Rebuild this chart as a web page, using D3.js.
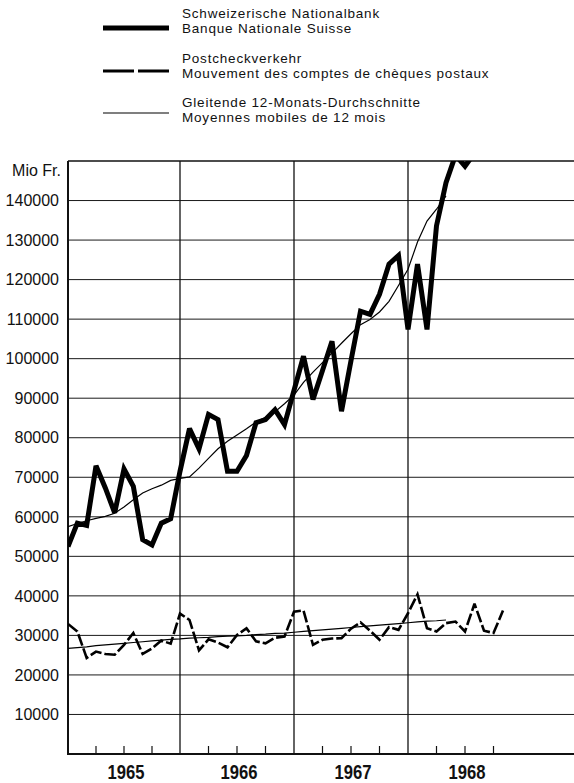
<!DOCTYPE html>
<html>
<head>
<meta charset="utf-8">
<script src="https://cdn.jsdelivr.net/npm/d3@7/dist/d3.min.js"></script>
<style>
  body { margin: 0; background: #fff; }
  svg { display: block; }
  text { font-family: "Liberation Sans", Arial, Helvetica, sans-serif; fill: #111; }
</style>
</head>
<body>
<svg id="chart" width="574" height="783"></svg>
<script>
// monthly values, first value = January 1965
var years = ["1965", "1966", "1967", "1968"];

var snb = [
  52500, 58400, 57800, 72900, 67300, 61000, 72100, 67700, 54200, 52900, 58400, 59500,
  71500, 82300, 77200, 85900, 84600, 71500, 71500, 75500, 83800, 84600, 87100, 83300,
  92000, 100600, 89700, 97000, 104400, 86700, 99500, 112000, 111200, 116300, 123900, 126100,
  107400, 123900, 107400, 133600, 144500, 151500, 148700, 152000
];

var snbAvg = [
  57500, 58300, 59000, 59600, 60100, 60900, 62500, 64300, 66000, 67100, 68000, 69200,
  69700, 70100, 72300, 74800, 77200, 79100, 80700, 82300, 84000, 85200, 86600, 88600,
  90800, 94000, 96600, 99000, 101400, 103900, 106300, 108600, 109900, 111800, 114500, 118500,
  122600, 129500, 134800, 137800, 141200
];

var post = [
  32900, 31000, 24300, 25900, 25300, 25100, 27600, 30600, 25300, 26700, 28700, 27900,
  35500, 33900, 26200, 29000, 28200, 27000, 30100, 31800, 28500, 28000, 29400, 29700,
  36000, 36300, 27600, 28900, 29200, 29300, 31700, 33300, 31200, 28900, 32100, 31400,
  35600, 40400, 31800, 31000, 33100, 33500, 31000, 38000, 31200, 30600, 36300
];

var postAvg = [
  26700, 26900, 27100, 27400, 27600, 27800, 28000, 28200, 28400, 28600, 28800, 29000,
  29100, 29300, 29400, 29500, 29700, 29800, 29900, 30000, 30200, 30300, 30500, 30600,
  30800, 31000, 31200, 31400, 31600, 31800, 32000, 32200, 32400, 32600, 32800, 33000,
  33200, 33400, 33600, 33700, 33900
];

var yTicks = d3.range(10000, 150000, 10000);

var legendItems = [
  { lines: ["Schweizerische Nationalbank", "Banque Nationale Suisse"], kind: "snb" },
  { lines: ["Postcheckverkehr", "Mouvement des comptes de chèques postaux"], kind: "post" },
  { lines: ["Gleitende 12-Monats-Durchschnitte", "Moyennes mobiles de 12 mois"], kind: "avg" }
];

var svg = d3.select("#chart");

var plotTop = 161, plotBottom = 754, plotLeft = 68, plotRight = 574;

// months since Jan 1965
var x = d3.scaleLinear().domain([0, 12, 48]).range([plotLeft, 180, 522]);
var y = d3.scaleLinear().domain([0, 150000]).range([plotBottom, plotTop]);

svg.append("rect").attr("width", 574).attr("height", 783).attr("fill", "#fff");

svg.append("defs").append("clipPath").attr("id", "plot")
  .append("rect").attr("x", plotLeft).attr("y", plotTop)
  .attr("width", plotRight - plotLeft).attr("height", plotBottom - plotTop);

// horizontal grid
svg.append("g").selectAll("line").data(yTicks).join("line")
  .attr("x1", plotLeft).attr("x2", plotRight)
  .attr("y1", d => y(d)).attr("y2", d => y(d))
  .attr("stroke", "#1a1a1a").attr("stroke-width", 1);

// y labels
svg.append("g").selectAll("text").data(yTicks).join("text")
  .attr("x", 59).attr("y", d => y(d)).attr("dy", "0.36em")
  .attr("text-anchor", "end").attr("font-size", 16)
  .text(d => d);

svg.append("text").attr("x", 61).attr("y", 176).attr("text-anchor", "end")
  .attr("font-size", 16).text("Mio Fr.");

// year separators
svg.append("g").selectAll("line").data([12, 24, 36]).join("line")
  .attr("x1", d => x(d)).attr("x2", d => x(d))
  .attr("y1", plotTop).attr("y2", plotBottom)
  .attr("stroke", "#111").attr("stroke-width", 1.3);

// quarter ticks
var quarters = d3.range(0, 48, 3).filter(d => d % 12 != 0);
svg.append("g").selectAll("line").data(quarters).join("line")
  .attr("x1", d => x(d)).attr("x2", d => x(d))
  .attr("y1", plotBottom).attr("y2", plotBottom - 8)
  .attr("stroke", "#111").attr("stroke-width", 1.2);

// frame: top, left, bottom
svg.append("line").attr("x1", plotLeft).attr("x2", plotRight).attr("y1", plotTop).attr("y2", plotTop)
  .attr("stroke", "#111").attr("stroke-width", 1.6);
svg.append("line").attr("x1", plotLeft).attr("x2", plotLeft).attr("y1", plotTop).attr("y2", plotBottom)
  .attr("stroke", "#111").attr("stroke-width", 2);
svg.append("line").attr("x1", plotLeft - 1).attr("x2", plotRight).attr("y1", plotBottom).attr("y2", plotBottom)
  .attr("stroke", "#111").attr("stroke-width", 2);

// year labels
svg.append("g").selectAll("text").data(years).join("text")
  .attr("x", (d, i) => (x(i * 12) + x(i * 12 + 12)) / 2 + 2)
  .attr("y", 779)
  .attr("text-anchor", "middle")
  .attr("font-size", 20).attr("font-weight", "bold")
  .attr("textLength", 37).attr("lengthAdjust", "spacingAndGlyphs")
  .text(d => d);

var line = d3.line().x((d, i) => x(i)).y(d => y(d));

var lines = svg.append("g").attr("clip-path", "url(#plot)")
  .attr("fill", "none").attr("stroke", "#000")
  .attr("stroke-linejoin", "miter").attr("stroke-miterlimit", 3);

lines.append("path").attr("d", line(postAvg)).attr("stroke-width", 1.2);
lines.append("path").attr("d", line(post)).attr("stroke-width", 2.6)
  .attr("stroke-dasharray", "12,3");
lines.append("path").attr("d", line(snbAvg)).attr("stroke-width", 1.2);
lines.append("path").attr("d", line(snb)).attr("stroke-width", 5);

// legend
var leg = svg.append("g");
var textY = [18, 63, 107], markY = [28, 71, 113];
legendItems.forEach(function (item, i) {
  var l = leg.append("line").attr("x1", 103).attr("x2", 169)
    .attr("y1", markY[i]).attr("y2", markY[i]).attr("stroke", "#000");
  if (item.kind == "snb") l.attr("stroke-width", 5);
  if (item.kind == "post") l.attr("stroke-width", 2.8).attr("stroke-dasharray", "31,4");
  if (item.kind == "avg") l.attr("stroke-width", 1.2);
  item.lines.forEach(function (t, j) {
    leg.append("text").attr("x", 182).attr("y", textY[i] + j * 15)
      .attr("font-size", 13.5).attr("letter-spacing", 0.8)
      .text(t);
  });
});
</script>
</body>
</html>
